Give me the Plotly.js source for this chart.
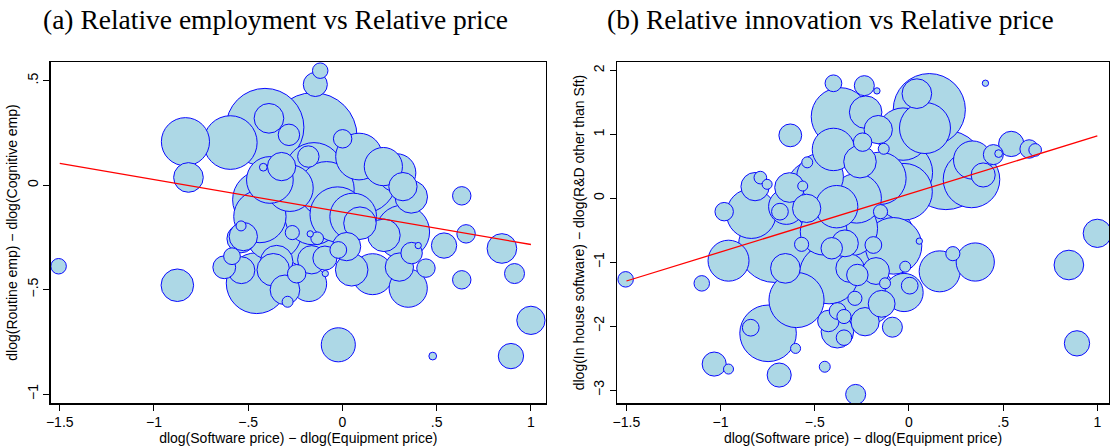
<!DOCTYPE html>
<html>
<head>
<meta charset="utf-8">
<script src="https://cdn.plot.ly/plotly-3.0.1.min.js"></script>
<style>html,body{margin:0;padding:0;background:#fff;}#chart{width:1112px;height:448px;}</style>
</head>
<body>
<div id="chart"></div>
<script>
// Panel (a): dlog(Routine emp) - dlog(Cognitive emp) vs relative price
const aX = [-1.506,-0.876,-0.833,-0.817,-0.595,-0.627,-0.586,-0.538,-0.538,-0.536,-0.411,-0.390,-0.284,-0.155,-0.144,-0.118,0.001,-0.181,-0.151,-0.323,-0.420,0.088,0.102,0.186,0.288,0.321,0.365,0.320,0.220,0.367,0.402,0.539,0.633,0.656,0.633,0.443,0.302,0.349,0.160,0.049,-0.022,-0.084,-0.279,-0.429,-0.026,-0.367,-0.181,-0.266,-0.134,-0.171,-0.022,0.022,-0.093,-0.163,-0.349,-0.367,-0.243,-0.178,-0.305,-0.291,-0.455,-0.091,0.846,0.913,1.000,0.894,0.479,-0.155,-0.438,-0.385,0.217,0.057,0.093,-0.526];
const aY = [-0.388,-0.479,0.208,0.037,0.204,-0.393,-0.340,-0.256,-0.195,-0.407,0.277,0.320,0.241,0.233,0.482,0.548,0.222,0.137,0.065,0.089,0.086,0.137,0.033,-0.060,0.059,-0.007,-0.056,-0.224,-0.240,-0.325,-0.289,-0.289,-0.051,-0.233,-0.453,-0.397,-0.392,-0.493,-0.426,-0.405,-0.764,-0.019,-0.014,-0.070,-0.140,-0.226,-0.246,-0.227,-0.254,-0.233,-0.310,-0.294,-0.349,-0.357,-0.366,-0.405,-0.424,-0.472,-0.501,-0.558,-0.469,-0.423,-0.303,-0.423,-0.647,-0.818,-0.818,-0.150,-0.150,0.025,0.089,-0.150,-0.182,-0.246];
const aW = [1.2,5.3,11.6,4.4,14.4,2.6,1.4,4.0,0.5,3.6,30.3,4.4,2.3,38.4,2.9,1.2,1.7,2.3,16.8,4.0,0.3,10.9,25.0,32.5,7.3,4.0,5.3,14.4,5.3,2.3,0.2,3.2,1.7,1.7,1.7,1.7,4.0,7.3,8.4,5.3,5.8,15.2,10.9,16.8,15.2,16.0,18.5,1.0,0.8,0.2,1.4,4.0,2.9,4.0,5.3,5.3,1.7,6.3,4.4,0.6,18.5,0.2,4.4,2.0,4.0,3.2,0.3,16.0,13.7,10.9,7.3,10.9,5.3,4.0];
const aFitX = [-1.5, 1.0];
const aFitY = [0.104, -0.284];

// Panel (b): dlog(In house software) - dlog(R&D other than Sft) vs relative price
const bX = [-1.504,-1.100,-0.981,-0.958,-0.837,-0.817,-0.789,-0.753,-0.840,-0.748,-0.714,-0.656,-0.685,-0.630,-0.634,-0.597,-0.602,-0.689,-1.034,-0.958,-0.447,-0.283,-0.401,-0.237,-0.170,0.406,-0.365,-0.230,0.108,0.042,0.085,-0.031,-0.163,-0.246,-0.401,-0.134,0.196,0.332,0.338,0.394,0.543,0.448,0.476,0.638,0.670,1.000,0.849,0.892,0.352,0.163,0.233,-0.026,0.004,-0.020,0.055,-0.088,-0.145,-0.233,-0.234,-0.428,-0.380,-0.345,-0.379,-0.345,-0.424,-0.036,-0.026,-0.278,-0.508,-0.472,-0.564,-0.540,-0.082,-0.145,-0.340,-0.570,-0.543,-0.384,-0.313,-0.154,-0.260,-0.175,-0.151,-0.410,-0.189,-0.313,-0.274,-0.127,-0.287,-0.453,-0.651];
const bY = [-1.268,-1.331,-0.209,-0.976,-0.240,0.183,0.324,0.219,-2.025,-2.113,-0.752,-1.096,-0.209,0.985,0.169,-1.592,-2.349,-2.766,-2.594,-2.672,-2.636,-3.069,1.800,1.763,1.681,1.801,1.278,1.348,1.388,1.638,1.100,1.005,1.075,0.879,0.765,0.775,0.443,0.295,0.599,0.365,0.851,0.684,0.700,0.772,0.757,-0.548,-1.044,-2.270,-0.997,-1.143,-0.866,-1.474,-1.367,-1.070,-0.670,-2.017,-1.651,-1.931,-1.513,-1.920,-2.088,-2.181,-1.764,-1.850,-1.187,0.404,0.103,0.000,0.175,0.338,0.192,0.563,-0.744,-0.653,-0.705,-0.720,-0.157,-0.131,-0.470,0.313,0.573,-1.138,-0.209,-0.782,-0.731,-1.095,-1.200,-1.330,-1.565,-0.522,-0.130];
const bW = [1.2,1.2,1.7,8.4,12.3,4.0,0.8,0.5,1.4,16.0,26.0,4.4,1.4,2.6,4.4,15.2,0.5,2.9,2.9,0.5,0.6,2.0,1.4,2.0,0.2,0.2,16.8,5.3,26.0,4.4,13.0,13.7,4.0,1.7,9.0,0.6,31.4,16.0,7.3,2.9,3.2,2.0,0.3,1.7,0.8,4.0,4.4,3.2,7.3,8.4,1.0,7.3,1.4,0.6,0.2,2.0,3.6,4.0,18.5,2.3,5.3,1.2,1.4,1.0,17.6,18.5,16.0,12.3,13.7,10.9,0.5,0.6,16.0,23.0,3.6,1.0,4.0,9.0,15.2,13.7,5.3,3.6,1.0,2.3,1.4,4.0,2.3,0.6,1.0,10.9,6.3];
const bFitX = [-1.5, 1.0];
const bFitY = [-1.294, 0.976];

function sortedByWeight(xs, ys, ws) {
  const idx = ws.map((w, i) => i).sort((p, q) => ws[q] - ws[p]);
  return { x: idx.map(i => xs[i]), y: idx.map(i => ys[i]), w: idx.map(i => ws[i]) };
}
const A = sortedByWeight(aX, aY, aW);
const B = sortedByWeight(bX, bY, bW);

const bubbleMarker = (w) => ({
  size: w, sizemode: 'area', sizeref: 0.01, sizemin: 0, opacity: 1,
  color: 'rgb(173,216,230)',
  line: { color: 'rgb(10,10,255)', width: 1.0 }
});

const traces = [
  { type: 'scatter', mode: 'markers', x: A.x, y: A.y, marker: bubbleMarker(A.w), xaxis: 'x', yaxis: 'y', hoverinfo: 'skip' },
  { type: 'scatter', mode: 'lines', x: aFitX, y: aFitY, line: { color: 'rgb(255,0,0)', width: 1.3 }, xaxis: 'x', yaxis: 'y', hoverinfo: 'skip' },
  { type: 'scatter', mode: 'markers', x: B.x, y: B.y, marker: bubbleMarker(B.w), xaxis: 'x2', yaxis: 'y2', hoverinfo: 'skip' },
  { type: 'scatter', mode: 'lines', x: bFitX, y: bFitY, line: { color: 'rgb(255,0,0)', width: 1.3 }, xaxis: 'x2', yaxis: 'y2', hoverinfo: 'skip' }
];

const sans = 'Liberation Sans, Arial, Helvetica, sans-serif';
const serif = 'Liberation Serif, Times New Roman, serif';
const axisBase = {
  showline: true, linecolor: '#000', linewidth: 1.2, mirror: true,
  ticks: 'outside', ticklen: 6, tickwidth: 1, tickcolor: '#000',
  showgrid: false, zeroline: false,
  tickfont: { family: sans, size: 14, color: '#000' }
};
const xTickVals = [-1.5, -1, -0.5, 0, 0.5, 1];
const xTickText = ['\u22121.5', '\u22121', '\u2212.5', '0', '.5', '1'];
const aYTickVals = [0.5, 0, -0.5, -1];
const aYTickText = ['.5', '0', '\u2212.5', '\u22121'];
const bYTickVals = [2, 1, 0, -1, -2, -3];
const bYTickText = ['2', '1', '0', '\u22121', '\u22122', '\u22123'];
const xTitle = 'dlog(Software price) \u2212 dlog(Equipment price)';
const titleFont = { family: sans, size: 14, color: '#000' };

const layout = {
  width: 1112, height: 448,
  margin: { l: 0, r: 0, t: 0, b: 0 },
  paper_bgcolor: '#fff', plot_bgcolor: '#fff',
  showlegend: false,
  xaxis: Object.assign({}, axisBase, {
    domain: [50.5 / 1112, 546 / 1112], range: [-1.549, 1.080],
    tickvals: xTickVals, ticktext: xTickText,
    title: { text: xTitle, font: titleFont, standoff: 0 }
  }),
  yaxis: Object.assign({}, axisBase, {
    domain: [(448 - 403.3) / 448, (448 - 61.7) / 448], range: [-1.044, 0.591],
    tickvals: aYTickVals, ticktext: aYTickText, tickangle: -90,
    title: { text: 'dlog(Routine emp) \u2212 dlog(Cognitive emp)', font: titleFont, standoff: 3 }
  }),
  xaxis2: Object.assign({}, axisBase, {
    domain: [617 / 1112, 1109 / 1112], range: [-1.55, 1.062], anchor: 'y2',
    tickvals: xTickVals, ticktext: xTickText,
    title: { text: xTitle, font: titleFont, standoff: 0 }
  }),
  yaxis2: Object.assign({}, axisBase, {
    domain: [(448 - 403.3) / 448, (448 - 61.7) / 448], range: [-3.208, 2.138], anchor: 'x2',
    tickvals: bYTickVals, ticktext: bYTickText, tickangle: -90,
    title: { text: 'dlog(In house software) \u2212 dlog(R&amp;D other than Sft)', font: titleFont, standoff: 3 }
  }),
  annotations: [
    { text: '(a) Relative employment vs Relative price', xref: 'paper', yref: 'paper', x: 275 / 1112, y: (448 - 19) / 448, xanchor: 'center', yanchor: 'middle', showarrow: false, font: { family: serif, size: 27.5, color: '#000' } },
    { text: '(b) Relative innovation vs Relative price', xref: 'paper', yref: 'paper', x: 830 / 1112, y: (448 - 19) / 448, xanchor: 'center', yanchor: 'middle', showarrow: false, font: { family: serif, size: 27.5, color: '#000' } }
  ]
};

Plotly.newPlot('chart', traces, layout, { staticPlot: true, displayModeBar: false });
</script>
</body>
</html>
